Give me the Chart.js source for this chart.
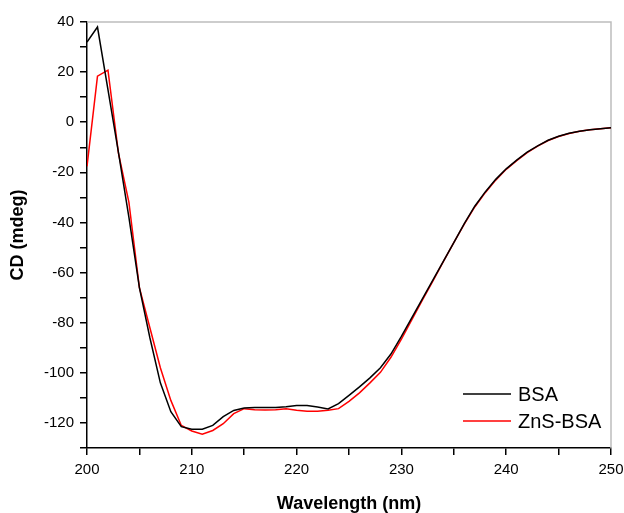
<!DOCTYPE html>
<html>
<head>
<meta charset="utf-8">
<script src="https://cdn.jsdelivr.net/npm/chart.js@4.4.1/dist/chart.umd.min.js"></script>
<style>
  html, body { margin: 0; padding: 0; background: #fff; }
  #wrap { width: 624px; height: 513px; }
</style>
</head>
<body>
<div id="wrap"><canvas id="cd"></canvas></div>
<script>
"use strict";

const wavelengths = [];
for (let w = 200; w <= 250; w++) wavelengths.push(w);

const bsa = [
  32, 38, 13, -12, -38, -66, -86, -104, -115.5, -121.5,
  -122.5, -122.5, -121, -117.5, -115, -114, -113.8, -113.8, -113.8, -113.5,
  -113, -113, -113.6, -114.4, -112.3, -109, -105.6, -102, -98, -92.5,
  -85.5, -78, -70.5, -63, -55.5, -48, -40.5, -33.5, -27.8, -22.8,
  -18.6, -15.1, -11.9, -9.4, -7.2, -5.6, -4.4, -3.6, -3.0, -2.6,
  -2.2
];

const znsBsa = [
  -17.6, 18.4, 20.8, -12.3, -32, -66, -82, -98, -111, -121,
  -123.2, -124.5, -123, -120.3, -116.3, -114.3, -114.7, -114.8, -114.7, -114.3,
  -114.9, -115.3, -115.3, -114.9, -114.3, -111.4, -108, -104, -99.8, -93.8,
  -86.6, -78.8, -71, -63.4, -55.6, -48, -40.7, -33.8, -28.1, -23.1,
  -18.8, -15.3, -12.1, -9.5, -7.3, -5.7, -4.5, -3.6, -3.0, -2.6,
  -2.2
];

const seriesNames = ['BSA', 'ZnS-BSA'];
const seriesColors = ['#000000', '#ff0000'];

const FONT = "Arial, 'Liberation Sans', sans-serif";

// grey frame on top and right, like the Origin plot
const framePlugin = {
  id: 'frame',
  beforeDatasetsDraw(chart) {
    const { ctx, chartArea: a } = chart;
    ctx.save();
    ctx.strokeStyle = '#bdbdbd';
    ctx.lineWidth = 1.5;
    ctx.beginPath();
    ctx.moveTo(a.left, a.top);
    ctx.lineTo(a.right, a.top);
    ctx.lineTo(a.right, a.bottom);
    ctx.stroke();
    ctx.restore();
  }
};

// legend in the lower right of the plot
const innerLegend = {
  id: 'innerLegend',
  afterDraw(chart) {
    const { ctx } = chart;
    const x0 = 463, x1 = 511, tx = 518;
    const rows = [394, 421];
    ctx.save();
    ctx.font = '20px ' + FONT;
    ctx.textBaseline = 'middle';
    ctx.fillStyle = '#000';
    chart.data.datasets.forEach((ds, i) => {
      ctx.strokeStyle = ds.borderColor;
      ctx.lineWidth = 1.5;
      ctx.beginPath();
      ctx.moveTo(x0, rows[i]);
      ctx.lineTo(x1, rows[i]);
      ctx.stroke();
      ctx.fillText(ds.label, tx, rows[i] + 1);
    });
    ctx.restore();
  }
};

new Chart(document.getElementById('cd'), {
  type: 'line',
  data: {
    labels: wavelengths,
    datasets: [bsa, znsBsa].map((vals, i) => ({
      label: seriesNames[i],
      data: vals.map((v, j) => ({ x: wavelengths[j], y: v })),
      borderColor: seriesColors[i],
      borderWidth: 1.5,
      pointRadius: 0,
      tension: 0,
      fill: false
    }))
  },
  options: {
    responsive: true,
    maintainAspectRatio: false,
    animation: false,
    layout: { padding: { top: 22, right: 13, left: 0, bottom: 0 } },
    plugins: {
      legend: { display: false },
      tooltip: { enabled: false }
    },
    scales: {
      x: {
        type: 'linear',
        min: 200,
        max: 250,
        afterFit: (s) => { s.height = 65; s.paddingLeft = 0; s.paddingRight = 0; },
        border: { display: true, color: '#000', width: 1.5 },
        grid: { drawOnChartArea: false, color: '#000', tickLength: 7, lineWidth: 1.5 },
        ticks: {
          stepSize: 5,
          autoSkip: false,
          maxRotation: 0,
          padding: 6,
          color: '#000',
          font: { family: FONT, size: 15 },
          callback: (v) => (v % 10 === 0 ? v : '')
        },
        title: {
          display: true,
          text: 'Wavelength (nm)',
          color: '#000',
          font: { family: FONT, size: 18, weight: 'bold', lineHeight: 1 },
          padding: { top: 0, bottom: 0 }
        }
      },
      y: {
        min: -130,
        max: 40,
        afterFit: (s) => { s.width = 87; s.paddingTop = 0; s.paddingBottom = 0; },
        border: { display: true, color: '#000', width: 1.5 },
        grid: { drawOnChartArea: false, color: '#000', tickLength: 7, lineWidth: 1.5 },
        ticks: {
          stepSize: 10,
          autoSkip: false,
          padding: 6,
          color: '#000',
          font: { family: FONT, size: 15 },
          callback: (v) => (v % 20 === 0 ? v : '')
        },
        title: {
          display: true,
          text: 'CD (mdeg)',
          color: '#000',
          font: { family: FONT, size: 18, weight: 'bold', lineHeight: 1.2 },
          padding: { top: 7, bottom: 0 }
        }
      }
    }
  },
  plugins: [framePlugin, innerLegend]
});
</script>
</body>
</html>
